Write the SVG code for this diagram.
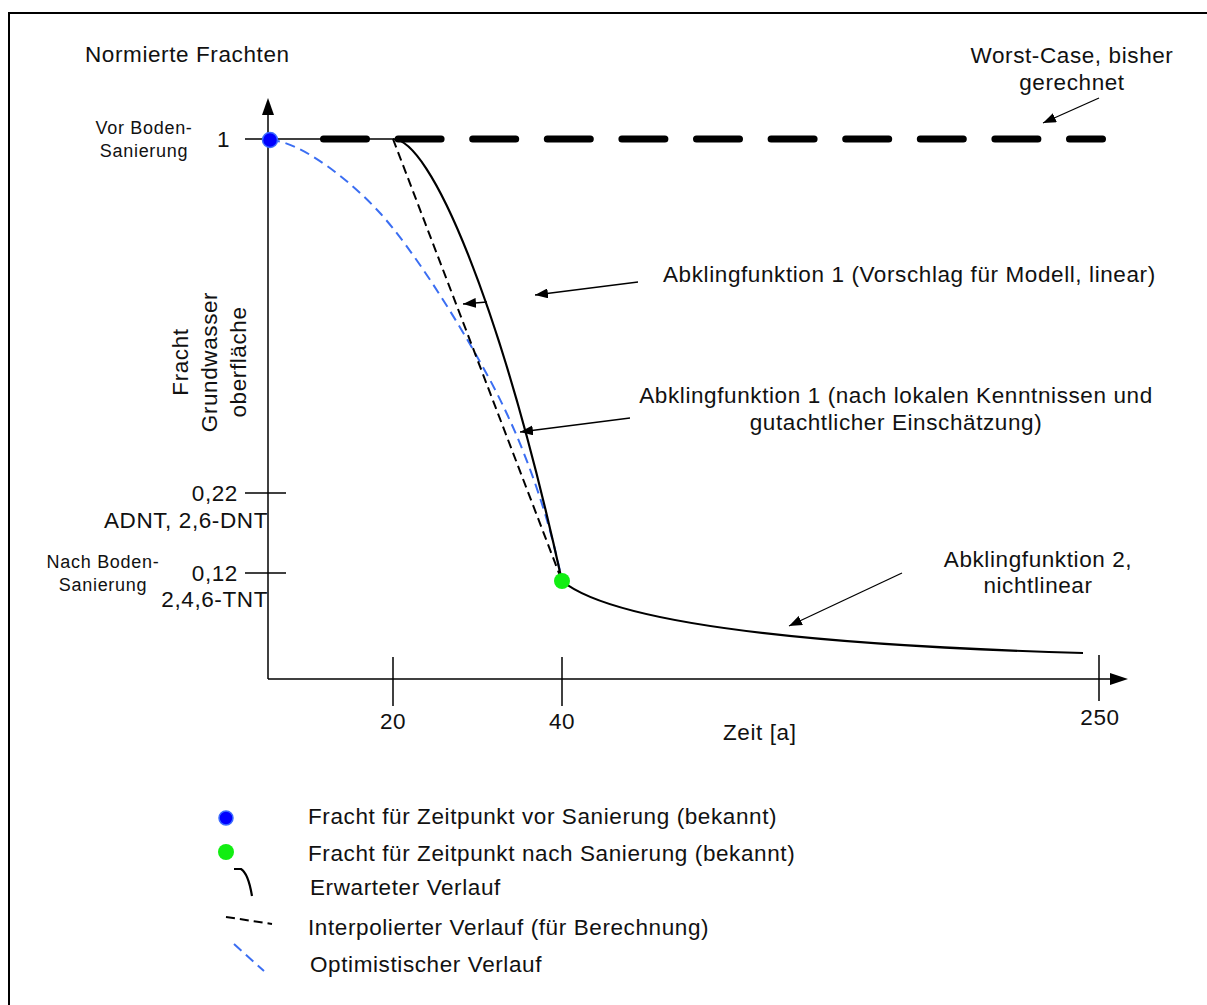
<svg xmlns="http://www.w3.org/2000/svg" width="1207" height="1005" viewBox="0 0 1207 1005">
  <style>
    text { font-family: "Liberation Sans", Arial, sans-serif; fill: #111; }
    .t { font-size: 22.5px; letter-spacing: 0.6px; }
    .s { font-size: 18px; letter-spacing: 0.7px; }
    .mid { text-anchor: middle; }
    .end { text-anchor: end; }
    .ax { stroke: #000; stroke-width: 1.5; fill: none; }
    .solid { stroke: #000; stroke-width: 2.2; fill: none; }
    .interp { stroke: #000; stroke-width: 2; fill: none; stroke-dasharray: 9 5; }
    .optim { stroke: #3b6ef2; stroke-width: 2; fill: none; stroke-dasharray: 10 6; }
    .worst { stroke: #000; stroke-width: 7; stroke-linecap: round; fill: none; stroke-dasharray: 43 31.6; }
    .lead { stroke: #000; stroke-width: 1.3; fill: none; marker-end: url(#head); }
  </style>
  <defs>
    <marker id="head" markerUnits="userSpaceOnUse" markerWidth="14" markerHeight="10" refX="13" refY="5" orient="auto">
      <path d="M0,0 L13,5 L0,10 Z" fill="#000"/>
    </marker>
  </defs>

  <rect width="1207" height="1005" fill="#fff"/>
  <!-- frame (open to the right and bottom) -->
  <rect x="9" y="13" width="1300" height="1100" fill="none" stroke="#000" stroke-width="2"/>

  <!-- axes, ticks and arrowheads -->
  <g id="axes">
    <line class="ax" x1="268" y1="679" x2="268" y2="112"/>
    <path d="M268,98 L262,115 L274,115 Z" fill="#000"/>
    <line class="ax" x1="268" y1="679" x2="1112" y2="679"/>
    <path d="M1128,679 L1110,673 L1110,685 Z" fill="#000"/>
    <line class="ax" x1="245" y1="139" x2="393" y2="139"/>
    <line class="ax" x1="245" y1="493" x2="286" y2="493"/>
    <line class="ax" x1="245" y1="573" x2="286" y2="573"/>
    <line class="ax" x1="393" y1="657" x2="393" y2="706"/>
    <line class="ax" x1="562" y1="657" x2="562" y2="706"/>
    <line class="ax" x1="1099" y1="655" x2="1099" y2="701"/>
  </g>

  <!-- axis labels -->
  <g id="axis-labels">
    <text class="t" x="85" y="62">Normierte Frachten</text>
    <text class="s mid" x="144" y="134">Vor Boden-</text>
    <text class="s mid" x="144" y="157">Sanierung</text>
    <text class="t end" x="230" y="147">1</text>
    <g transform="translate(188,362) rotate(-90)">
      <text class="t mid" x="0" y="0">Fracht</text>
      <text class="t mid" x="0" y="29">Grundwasser</text>
      <text class="t mid" x="0" y="58">oberfläche</text>
    </g>
    <text class="t end" x="238" y="501">0,22</text>
    <text class="t end" x="268" y="528">ADNT, 2,6-DNT</text>
    <text class="s mid" x="103" y="568">Nach Boden-</text>
    <text class="s mid" x="103" y="591">Sanierung</text>
    <text class="t end" x="238" y="581">0,12</text>
    <text class="t end" x="268" y="607">2,4,6-TNT</text>
    <text class="t mid" x="393" y="729">20</text>
    <text class="t mid" x="562" y="729">40</text>
    <text class="t mid" x="1100" y="725">250</text>
    <text class="t" x="723" y="740">Zeit [a]</text>
  </g>

  <!-- load curves -->
  <g id="curves">
    <line class="worst" x1="323.5" y1="139" x2="1102.5" y2="139"/>
    <path class="optim" d="M270,140 C300,141 350,180 380,213 S455,315 490,380 S550,520 562,581"/>
    <line class="interp" x1="393" y1="139" x2="562" y2="581"/>
    <path class="solid" d="M393,139 C430,139 500,300 562,581"/>
    <path class="solid" stroke-width="2.6" d="M562,581 C600,612 730,643 1083,653"/>
  </g>

  <!-- measured points -->
  <g id="point-before">
    <circle cx="270" cy="140" r="7.5" fill="#0000ff" stroke="#3c6cff" stroke-width="1.5"/>
  </g>
  <g id="point-after">
    <circle cx="562" cy="581" r="8" fill="#12ee12"/>
  </g>

  <!-- annotation texts -->
  <g id="note-worst">
    <text class="t mid" x="1072" y="63">Worst-Case, bisher</text>
    <text class="t mid" x="1072" y="90">gerechnet</text>
  </g>
  <g id="note-abkling1">
    <text class="t" x="663" y="282">Abklingfunktion 1 (Vorschlag für Modell, linear)</text>
  </g>
  <g id="note-abkling1b">
    <text class="t mid" x="896" y="403">Abklingfunktion 1 (nach lokalen Kenntnissen und</text>
    <text class="t mid" x="896" y="430">gutachtlicher Einschätzung)</text>
  </g>
  <g id="note-abkling2">
    <text class="t mid" x="1038" y="567">Abklingfunktion 2,</text>
    <text class="t mid" x="1038" y="593">nichtlinear</text>
  </g>

  <!-- leader arrows -->
  <g id="connectors">
    <line class="lead" x1="1099" y1="98" x2="1043" y2="123"/>
    <line class="lead" x1="638" y1="282" x2="535" y2="295"/>
    <line class="lead" x1="487" y1="302" x2="463" y2="304"/>
    <line class="lead" x1="630" y1="418" x2="520" y2="432"/>
    <line class="lead" x1="902" y1="573" x2="789" y2="626"/>
  </g>

  <!-- legend -->
  <g id="legend">
    <circle cx="226" cy="818" r="7" fill="#0000ff" stroke="#3c6cff" stroke-width="1.5"/>
    <text class="t" x="308" y="824">Fracht für Zeitpunkt vor Sanierung (bekannt)</text>
    <circle cx="226" cy="852" r="8" fill="#12ee12"/>
    <text class="t" x="308" y="861">Fracht für Zeitpunkt nach Sanierung (bekannt)</text>
    <path class="solid" d="M234,869 L241,869 C246,872 250,884 252,896"/>
    <text class="t" x="310" y="895">Erwarteter Verlauf</text>
    <line class="interp" x1="226" y1="917" x2="272" y2="924"/>
    <text class="t" x="308" y="935">Interpolierter Verlauf (für Berechnung)</text>
    <line class="optim" x1="234" y1="944" x2="264" y2="971"/>
    <text class="t" x="310" y="972">Optimistischer Verlauf</text>
  </g>
</svg>
